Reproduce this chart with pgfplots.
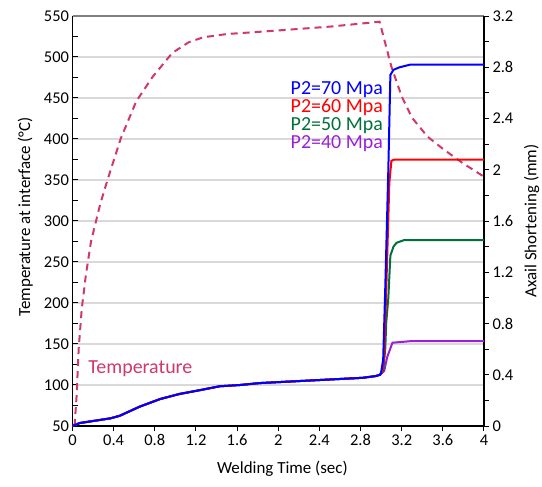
\documentclass[border=0pt]{standalone}
\usepackage{pgfplots}
\pgfplotsset{compat=1.18}
\usepackage{fontspec}
\setmainfont{Carlito}
\definecolor{tempc}{HTML}{D0386A}
\definecolor{gr}{HTML}{00703C}
\definecolor{pu}{HTML}{9B1FD6}
\definecolor{gridc}{HTML}{D9D9D9}
\begin{document}
\begin{tikzpicture}
\pgfplotsset{
  common/.style={
    scale only axis, width=411.5bp, height=410bp,
    xmin=0, xmax=4,
    /pgf/number format/assume math mode=true,
    tick label style={font=\fontsize{16.5}{18}\selectfont},
    axis line style={line width=1.5bp},
    tick style={line width=1bp, black},
    major tick length=5bp, minor tick length=5bp,
  }
}
\begin{axis}[common,
  axis x line*=bottom, axis y line*=left,
  ymin=50, ymax=550, ytick={50,100,...,550},
  minor y tick num=1,
  xtick=\empty,
  tick align=inside,
  ymajorgrids, grid style={gridc, line width=1.5bp},
  ylabel={Temperature at interface (°C)},
  every axis y label/.style={at={(axis description cs:-0.115,0.51)}, rotate=90, anchor=center, inner sep=0pt, font=\fontsize{17}{18}\selectfont},
]
\addplot[tempc, line width=2bp, dash pattern=on 7bp off 5bp] coordinates {
(0.02,50) (0.04,87) (0.06,144) (0.09,193) (0.13,234) (0.18,275) (0.27,321)
(0.34,350) (0.47,401) (0.62,446) (0.78,476) (0.97,505) (1.13,518) (1.27,524)
(1.5,528) (1.85,531) (2.5,537) (2.985,543) (3.05,512) (3.1,488) (3.2,452)
(3.3,426) (3.45,403) (3.6,388) (3.8,370) (4.0,354)};
\draw[gray, line width=1.5bp] (rel axis cs:0,1) -- (rel axis cs:1,1);
\end{axis}
\begin{axis}[common,
  axis x line*=bottom, axis y line*=right,
  ymin=0, ymax=3.2, ytick={0,0.4,0.8,1.2,1.6,2,2.4,2.8,3.2},
  minor y tick num=1,
  xtick={0,0.4,0.8,1.2,1.6,2,2.4,2.8,3.2,3.6,4},
  tick align=outside,
  xlabel={Welding Time (sec)}, ylabel={Axail Shortening (mm)},
  every axis y label/.style={at={(axis description cs:1.1155,0.5)}, rotate=90, anchor=center, inner sep=0pt, font=\fontsize{17}{18}\selectfont},
  every axis x label/.style={at={(axis description cs:0.51,-0.104)}, anchor=center, font=\fontsize{17}{18}\selectfont},
  yticklabel style={/pgf/number format/fixed},
]
\addplot[pu, line width=2bp] coordinates {
(0,0) (0.07,0.023) (0.37,0.06) (0.46,0.08) (0.65,0.15) (0.85,0.21) (1.04,0.25)
(1.24,0.28) (1.43,0.31) (1.63,0.32) (1.82,0.335) (2.82,0.376) (2.95,0.39) (2.99,0.40)
(3.03,0.43) (3.06,0.54) (3.11,0.65) (3.3,0.663) (4,0.663)};
\addplot[gr, line width=2bp] coordinates {
(0,0) (0.07,0.023) (0.37,0.06) (0.46,0.08) (0.65,0.15) (0.85,0.21) (1.04,0.25)
(1.24,0.28) (1.43,0.31) (1.63,0.32) (1.82,0.335) (2.82,0.376) (2.95,0.39) (2.99,0.40)
(3.02,0.43) (3.04,0.6) (3.05,0.81) (3.07,1.0) (3.09,1.33) (3.12,1.40) (3.15,1.43) (3.22,1.45) (4,1.45)};
\addplot[red, line width=2bp] coordinates {
(0,0) (0.07,0.023) (0.37,0.06) (0.46,0.08) (0.65,0.15) (0.85,0.21) (1.04,0.25)
(1.24,0.28) (1.43,0.31) (1.63,0.32) (1.82,0.335) (2.82,0.376) (2.95,0.39) (2.99,0.40)
(3.01,0.42) (3.03,0.55) (3.05,1.07) (3.08,1.9) (3.10,2.07) (3.13,2.08) (4,2.08)};
\addplot[blue, line width=2bp] coordinates {
(0,0) (0.07,0.023) (0.37,0.06) (0.46,0.08) (0.65,0.15) (0.85,0.21) (1.04,0.25)
(1.24,0.28) (1.43,0.31) (1.63,0.32) (1.82,0.335) (2.82,0.376) (2.95,0.39) (2.99,0.40)
(3.0,0.42) (3.02,0.52) (3.04,1.07) (3.07,2.0) (3.09,2.74) (3.12,2.78) (3.18,2.80) (3.28,2.82) (4,2.82)};
\end{axis}
\begin{scope}[every node/.style={inner sep=0pt, font=\fontsize{20}{21}\selectfont}]
\node[anchor=base east, text=blue] at (310.5bp,331.5bp) {P2=70 Mpa};
\node[anchor=base east, text=red] at (310.5bp,313.5bp) {P2=60 Mpa};
\node[anchor=base east, text=gr] at (310.5bp,295.5bp) {P2=50 Mpa};
\node[anchor=base east, text=pu] at (310.5bp,277.5bp) {P2=40 Mpa};
\node[anchor=base west, text=tempc] at (15.8bp,52.7bp) {Temperature};
\end{scope}
\pgfresetboundingbox
\path[use as bounding box] (-72.5bp,-61bp) rectangle (469.5bp,426bp);
\end{tikzpicture}
\end{document}
